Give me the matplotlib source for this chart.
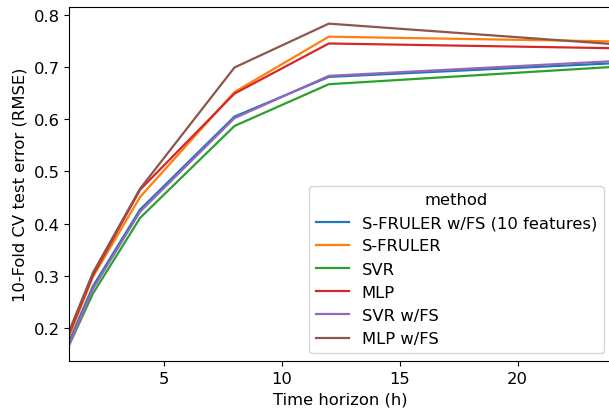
import matplotlib
matplotlib.use("Agg")
import matplotlib.pyplot as plt

# time horizons (h)
horizons = [1, 2, 4, 8, 12, 24]

methods = ["S-FRULER w/FS (10 features)", "S-FRULER", "SVR", "MLP", "SVR w/FS", "MLP w/FS"]

sfruler_fs = [0.175, 0.280, 0.427, 0.605, 0.681, 0.707]
sfruler = [0.185, 0.298, 0.451, 0.652, 0.758, 0.749]
svr = [0.168, 0.266, 0.411, 0.587, 0.667, 0.700]
mlp = [0.190, 0.301, 0.465, 0.649, 0.745, 0.736]
svr_fs = [0.170, 0.275, 0.423, 0.602, 0.683, 0.711]
mlp_fs = [0.195, 0.306, 0.467, 0.699, 0.783, 0.744]

series = [sfruler_fs, sfruler, svr, mlp, svr_fs, mlp_fs]

plt.rcParams["font.size"] = 11.8

fig = plt.figure(figsize=(6.09, 4.14), dpi=100)
ax = fig.add_axes([0.1138, 0.1256, 0.891, 0.854])

for name, vals in zip(methods, series):
    ax.plot(horizons, vals, label=name, linewidth=1.6)

ax.set_xlim(1, 24)
ax.set_ylim(0.137, 0.814)
ax.set_xticks([5, 10, 15, 20])
ax.set_yticks([0.2, 0.3, 0.4, 0.5, 0.6, 0.7, 0.8])
ax.set_xlabel("Time horizon (h)")
ax.set_ylabel("10-Fold CV test error (RMSE)")
ax.legend(title="method", loc="lower right")

fig.savefig("out.png", dpi=100)
